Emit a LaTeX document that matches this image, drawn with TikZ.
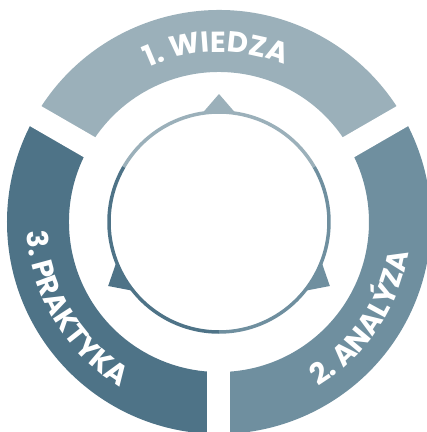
\documentclass[tikz,border=0pt]{standalone}
\usepackage{fontspec}
\newfontfamily\ringfont{Poppins}
\usetikzlibrary{decorations.text}
\definecolor{wiedza}{HTML}{9BB0BA}
\definecolor{analyza}{HTML}{6F8F9F}
\definecolor{praktyka}{HTML}{4E7387}
\newcommand\steplabelfont{\ringfont\bfseries\fontsize{29}{29}\selectfont}

\begin{document}
\begin{tikzpicture}[
  x=1pt, y=1pt,
  gap/.style={white, line width=23pt},
  rim/.style={line width=3.5pt},
  steplabel/.style={decorate, decoration={text along path, text align=center,
                text color=white, text={|\steplabelfont|#1}}}
]
  \useasboundingbox (-219,-210) rectangle (208,222);
  \clip (-219,-210) rectangle (208,222);

  % outer ring
  \foreach \a/\c in {30/wiedza, 150/praktyka, 270/analyza}
    \fill[\c] (\a:150) arc[start angle=\a, delta angle=120, radius=150]
      -- ({\a+120}:212) arc[start angle={\a+120}, delta angle=-120, radius=212] -- cycle;
  \foreach \a in {30, 150, 270}
    \draw[gap] (\a:140) -- (\a:225);

  % labels
  \path[steplabel={1. WIEDZA}] (136:170) arc[start angle=136, end angle=46, radius=170];
  \path[steplabel={2. ANALÝZA}] (-79:192) arc[start angle=-79, end angle=11, radius=192];
  \path[steplabel={3. PRAKTYKA}] (166:192) arc[start angle=166, end angle=256, radius=192];

  % inner circle with pointers
  \foreach \a/\c in {90/wiedza, 210/praktyka, 330/analyza}
    \fill[\c] (\a:128) -- ({\a-10}:108) -- ({\a+10}:108) -- cycle;
  \fill[white] (0,0) circle[radius=110];
  \foreach \a/\c in {30/wiedza, 150/praktyka, 270/analyza}
    \draw[rim, \c] (\a:110) arc[start angle=\a, delta angle=120, radius=110];
\end{tikzpicture}
\end{document}
